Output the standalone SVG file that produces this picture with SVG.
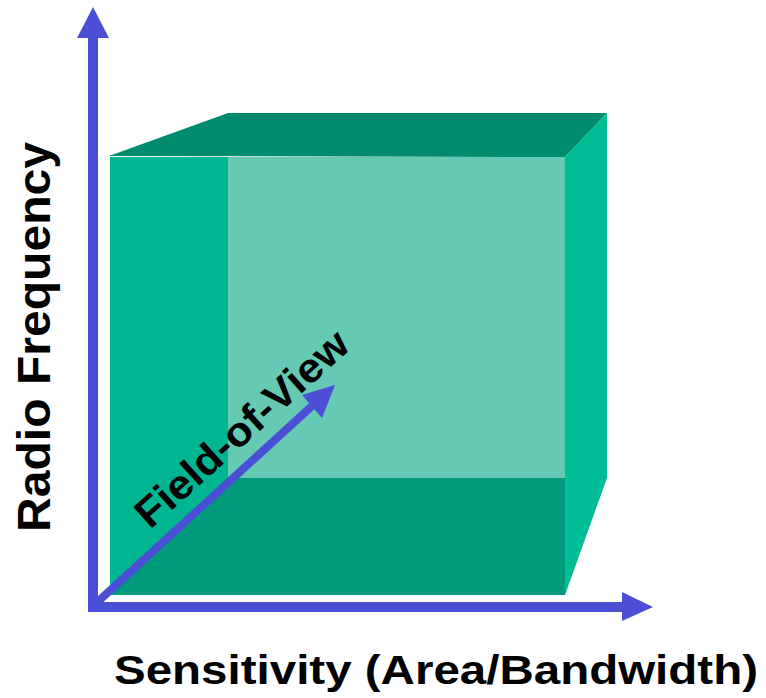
<svg xmlns="http://www.w3.org/2000/svg" width="766" height="698" viewBox="0 0 766 698">
<style>
.lbl{font-family:"Liberation Sans",Arial,sans-serif;font-weight:bold;fill:#000}
.ax{fill:#4a4fd6}
</style>
<rect width="766" height="698" fill="#fff"/>
<g id="box">
<rect x="228" y="157" width="337" height="321" fill="#66c9b4"/>
<polygon points="110,157 228,157 228,478 110,595" fill="#00b592"/>
<polygon points="110,595 228,478 565,478 565,595" fill="#009b7b"/>
<polygon points="109,156 228,113 607,113 565,157" fill="#008a6e"/>
<polygon points="565,157 607,113 607,478 565,595" fill="#00bd96"/>
</g>
<g id="connectors">
<g id="y-axis"><rect x="88" y="36" width="10" height="576" class="ax"/><polygon points="77,38 93,7 109,38" class="ax"/></g>
<g id="x-axis"><rect x="88" y="602" width="536" height="10" class="ax"/><polygon points="622,592 653,607 622,621" class="ax"/></g>
<g id="fov-arrow"><line x1="92" y1="607" x2="312" y2="406" stroke="#4a4fd6" stroke-width="8"/><polygon points="335,385 302,395 322,418" class="ax"/></g>
</g>
<g id="labels">
<text class="lbl" x="114" y="684" font-size="41" textLength="644" lengthAdjust="spacingAndGlyphs">Sensitivity (Area/Bandwidth)</text>
<text class="lbl" transform="translate(50,532) rotate(-90)" font-size="47" textLength="390" lengthAdjust="spacingAndGlyphs">Radio Frequency</text>
<text class="lbl" transform="translate(150,530) rotate(-42)" font-size="41" textLength="272" lengthAdjust="spacingAndGlyphs">Field-of-View</text>
</g>
</svg>
